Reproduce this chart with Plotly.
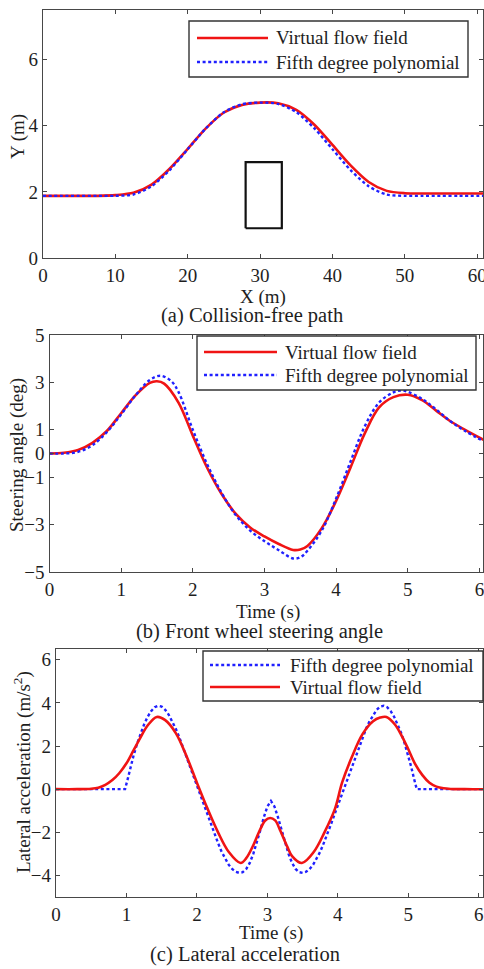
import plotly.graph_objects as go

# ---------------- data ----------------
# (a) Collision-free path
path_x_vff = [0, 2.5, 5, 7.5, 10, 12.5, 15, 17.5, 20, 22.5, 25, 27.5, 30, 32.5,
              35, 37.5, 40, 42.5, 45, 47.5, 50, 52.5, 55, 57.5, 61]
path_y_vff = [1.88, 1.88, 1.88, 1.88, 1.90, 1.97, 2.22, 2.70, 3.30, 3.92, 4.40, 4.63, 4.70, 4.68,
              4.48, 4.03, 3.42, 2.80, 2.30, 2.03, 1.96, 1.95, 1.95, 1.95, 1.95]
path_x_poly = [0, 2.5, 5, 7.5, 10, 12.5, 15, 17.5, 20, 22.5, 25, 27.5, 30, 32.5,
               35, 37.5, 40, 42.5, 45, 47.5, 50, 52.5, 55, 57.5, 61]
path_y_poly = [1.88, 1.88, 1.88, 1.88, 1.88, 1.92, 2.17, 2.66, 3.29, 3.92, 4.41, 4.65, 4.70, 4.66,
               4.41, 3.92, 3.29, 2.66, 2.17, 1.92, 1.88, 1.88, 1.88, 1.88, 1.88]
obstacle_x = [28, 33, 33, 28, 28]
obstacle_y = [0.9, 0.9, 2.9, 2.9, 0.9]

# (b) Front wheel steering angle
steer_t_vff = [0, 0.2, 0.4, 0.6, 0.8, 1.0, 1.2, 1.4, 1.5, 1.6, 1.8, 2.0, 2.2, 2.4, 2.6, 2.8,
               3.0, 3.2, 3.4, 3.5, 3.6, 3.8, 4.0, 4.2, 4.4, 4.6, 4.8, 5.0, 5.2, 5.4, 5.6, 5.8, 6.07]
steer_vff = [0.0, 0.03, 0.15, 0.45, 0.95, 1.70, 2.45, 2.98, 3.05, 2.95, 2.15, 0.75, -0.6, -1.7,
             -2.55, -3.12, -3.5, -3.82, -4.07, -4.05, -3.9, -3.15, -2.0, -0.6, 0.85, 1.95, 2.38,
             2.48, 2.25, 1.8, 1.35, 1.0, 0.56]
steer_t_poly = [0, 0.2, 0.4, 0.6, 0.8, 1.0, 1.2, 1.4, 1.55, 1.7, 1.8, 2.0, 2.2, 2.4, 2.6, 2.8,
                3.0, 3.2, 3.4, 3.5, 3.6, 3.8, 4.0, 4.2, 4.4, 4.6, 4.8, 4.9, 5.0, 5.2, 5.4, 5.6, 5.8, 6.07]
steer_poly = [0.0, 0.0, 0.07, 0.35, 0.9, 1.65, 2.45, 3.1, 3.28, 3.05, 2.6, 1.0, -0.45, -1.65,
              -2.6, -3.25, -3.7, -4.08, -4.43, -4.38, -4.1, -3.25, -1.9, -0.35, 1.15, 2.15, 2.58,
              2.66, 2.6, 2.3, 1.85, 1.35, 0.95, 0.5]

# (c) Lateral acceleration
acc_t_vff = [0, 0.3, 0.5, 0.6, 0.7, 0.8, 0.9, 1.0, 1.1, 1.2, 1.3, 1.43, 1.55, 1.7, 1.85, 2.0,
             2.15, 2.3, 2.45, 2.62, 2.7, 2.8, 2.9, 2.97, 3.04, 3.11, 3.18, 3.28, 3.35, 3.49,
             3.66, 3.81, 3.96, 4.06, 4.2, 4.35, 4.5, 4.6, 4.69, 4.81, 4.91, 5.0, 5.1, 5.2,
             5.3, 5.4, 5.5, 5.6, 5.8, 6.1]
acc_vff = [0, 0, 0.02, 0.07, 0.2, 0.42, 0.75, 1.2, 1.8, 2.4, 2.95, 3.35, 3.2, 2.6, 1.55, 0.3,
           -0.9, -2.0, -2.9, -3.42, -3.2, -2.6, -1.85, -1.45, -1.34, -1.45, -1.9, -2.65, -3.1, -3.42,
           -2.9, -2.0, -0.9, 0.3, 1.5, 2.55, 3.15, 3.32, 3.35, 3.0, 2.45, 1.85, 1.15, 0.65,
           0.3, 0.12, 0.04, 0.01, 0, 0]
acc_t_poly = [0, 0.98, 1.02, 1.06, 1.1, 1.15, 1.2, 1.25, 1.3, 1.35, 1.4, 1.45, 1.5, 1.55, 1.6,
              1.65, 1.7, 1.75, 1.8, 1.85, 1.9, 1.95, 2.0, 2.05, 2.1, 2.15, 2.2, 2.25, 2.3, 2.35,
              2.4, 2.45, 2.5, 2.55, 2.6, 2.65, 2.7, 2.75, 2.8, 2.85, 2.9, 2.95, 3.0, 3.05,
              3.1, 3.15, 3.2, 3.25, 3.3, 3.35, 3.4, 3.45, 3.5, 3.55, 3.6, 3.65, 3.7, 3.75,
              3.8, 3.85, 3.9, 3.95, 4.0, 4.05, 4.1, 4.15, 4.2, 4.25, 4.3, 4.35, 4.4, 4.45,
              4.5, 4.55, 4.6, 4.65, 4.7, 4.75, 4.8, 4.85, 4.9, 4.95, 5.0, 5.04, 5.08, 5.12, 6.1]
acc_poly = [0, 0, 0.5, 1.05, 1.55, 2.1, 2.6, 3.0, 3.35, 3.62, 3.8, 3.87, 3.83, 3.68, 3.45,
            3.15, 2.8, 2.4, 1.95, 1.5, 1.05, 0.6, 0.15, -0.3, -0.75, -1.2, -1.65, -2.1, -2.5, -2.9,
            -3.22, -3.5, -3.7, -3.83, -3.88, -3.85, -3.7, -3.42, -3.0, -2.5, -1.9, -1.3, -0.8, -0.55,
            -0.8, -1.3, -1.9, -2.5, -3.0, -3.42, -3.7, -3.85, -3.88, -3.83, -3.7, -3.5, -3.22, -2.9,
            -2.5, -2.1, -1.65, -1.2, -0.75, -0.3, 0.15, 0.6, 1.05, 1.5, 1.95, 2.4, 2.8, 3.15,
            3.45, 3.68, 3.83, 3.87, 3.8, 3.62, 3.35, 3.0, 2.6, 2.1, 1.55, 1.05, 0.5, 0, 0]

name_vff = "Virtual flow field"
name_poly = "Fifth degree polynomial"

# ---------------- style ----------------
FONT = "Liberation Serif"
TXT = "#1e1e1e"
RED = "#f01414"
BLUE = "#2020ff"
FRAME = "#474747"
W, H = 484, 969
BLUE_DASH = "3px,2.6px"

red_line = dict(color=RED, width=2.6)
blue_line = dict(color=BLUE, width=2.4, dash=BLUE_DASH)

fig = go.Figure()

# panel (a)
fig.add_trace(go.Scatter(x=path_x_vff, y=path_y_vff, mode="lines", name=name_vff, showlegend=False,
                         line=dict(**red_line, shape="spline", smoothing=0.8),
                         xaxis="x", yaxis="y"))
fig.add_trace(go.Scatter(x=path_x_poly, y=path_y_poly, mode="lines", name=name_poly, showlegend=False,
                         line=dict(**blue_line, shape="spline", smoothing=0.8),
                         xaxis="x", yaxis="y"))
fig.add_trace(go.Scatter(x=obstacle_x, y=obstacle_y, mode="lines", showlegend=False,
                         line=dict(color="#111111", width=2.2), xaxis="x", yaxis="y"))

# panel (b)
fig.add_trace(go.Scatter(x=steer_t_vff, y=steer_vff, mode="lines", name=name_vff, showlegend=False,
                         line=dict(**red_line, shape="spline", smoothing=1.0),
                         xaxis="x2", yaxis="y2"))
fig.add_trace(go.Scatter(x=steer_t_poly, y=steer_poly, mode="lines", name=name_poly, showlegend=False,
                         line=dict(**blue_line, shape="spline", smoothing=1.0),
                         xaxis="x2", yaxis="y2"))

# panel (c)
fig.add_trace(go.Scatter(x=acc_t_poly, y=acc_poly, mode="lines", name=name_poly, showlegend=False,
                         line=dict(**blue_line, shape="linear"),
                         xaxis="x3", yaxis="y3"))
fig.add_trace(go.Scatter(x=acc_t_vff, y=acc_vff, mode="lines", name=name_vff, showlegend=False,
                         line=dict(**red_line, shape="spline", smoothing=1.0),
                         xaxis="x3", yaxis="y3"))


def px_x(p):
    return p / W


def px_y(p):
    return 1 - p / H


axis_common = dict(showline=True, linecolor=FRAME, linewidth=1.4, mirror="allticks",
                   ticks="inside", ticklen=4, tickwidth=1.2, tickcolor=FRAME,
                   showgrid=False, zeroline=False, automargin=False,
                   tickfont=dict(family=FONT, size=19, color=TXT))

fig.update_layout(
    template="none",
    width=W, height=H, margin=dict(l=0, r=0, t=0, b=0, pad=0, autoexpand=False),
    paper_bgcolor="white", plot_bgcolor="white", showlegend=False,
    font=dict(family=FONT, size=19, color=TXT),
    xaxis=dict(axis_common, domain=[px_x(43), px_x(483)], range=[0, 60.8],
               tickvals=[0, 10, 20, 30, 40, 50, 60], anchor="y", ticklabeloverflow="allow"),
    yaxis=dict(axis_common, domain=[px_y(258), px_y(10)], range=[0, 7.5],
               tickvals=[0, 2, 4, 6], anchor="x"),
    xaxis2=dict(axis_common, domain=[px_x(49.5), px_x(483)], range=[0, 6.05],
                tickvals=[0, 1, 2, 3, 4, 5, 6], anchor="y2", ticklabeloverflow="allow"),
    yaxis2=dict(axis_common, domain=[px_y(572), px_y(335)], range=[-5, 5],
                tickvals=[-5, -3, -1, 0, 1, 3, 5], anchor="x2"),
    xaxis3=dict(axis_common, domain=[px_x(56), px_x(483)], range=[0, 6.06],
                tickvals=[0, 1, 2, 3, 4, 5, 6], anchor="y3", ticklabeloverflow="allow"),
    yaxis3=dict(axis_common, domain=[px_y(897), px_y(649)], range=[-5, 6.5],
                tickvals=[-4, -2, 0, 2, 4, 6], anchor="x3"),
)

# legends (box, sample line, label) in pixel layout
legends = [
    # box x0, x1, y0, y1, line x0, x1, text x, rows [(y, name)]
    (189, 468, 21, 77, 197, 268, 274, [(38, name_vff), (62, name_poly)]),
    (197, 476, 336, 390, 204, 277, 283, [(352, name_vff), (375, name_poly)]),
    (203, 483, 651, 701, 210, 280, 288, [(665, name_poly), (687, name_vff)]),
]
for bx0, bx1, by0, by1, lx0, lx1, tx, rows in legends:
    fig.add_shape(type="rect", xref="paper", yref="paper",
                  x0=px_x(bx0), x1=px_x(bx1), y0=px_y(by1), y1=px_y(by0),
                  line=dict(color="#333333", width=1.4), fillcolor="white", layer="above")
    for ry, nm in rows:
        ln = dict(color=RED, width=2.6) if nm == name_vff else dict(color=BLUE, width=2.4, dash=BLUE_DASH)
        fig.add_shape(type="line", xref="paper", yref="paper",
                      x0=px_x(lx0), x1=px_x(lx1), y0=px_y(ry), y1=px_y(ry),
                      line=ln, layer="above")
        fig.add_annotation(text=nm, x=px_x(tx), y=px_y(ry), xref="paper", yref="paper",
                           xanchor="left", yanchor="middle", showarrow=False,
                           font=dict(family=FONT, size=19, color=TXT))

annots = [
    ("X (m)", 263, 297, 19, 0),
    ("(a) Collision-free path", 252, 315, 20.5, 0),
    ("Time (s)", 268, 612, 19, 0),
    ("(b) Front wheel steering angle", 259, 631, 20.5, 0),
    ("Time (s)", 271, 933, 19, 0),
    ("(c) Lateral acceleration", 245, 954, 20.5, 0),
    ("Y (m)", 18, 137, 19, -90),
    ("Steering angle (deg)", 17, 455, 19, -90),
    ("Lateral acceleration (m/s<sup>2</sup>)", 22, 772, 19, -90),
]
for text, xp, yp, size, ang in annots:
    fig.add_annotation(text=text, x=px_x(xp), y=px_y(yp), xref="paper", yref="paper",
                       xanchor="center", yanchor="middle", showarrow=False, textangle=ang,
                       font=dict(family=FONT, size=size, color=TXT))

fig.write_html("out.html")
